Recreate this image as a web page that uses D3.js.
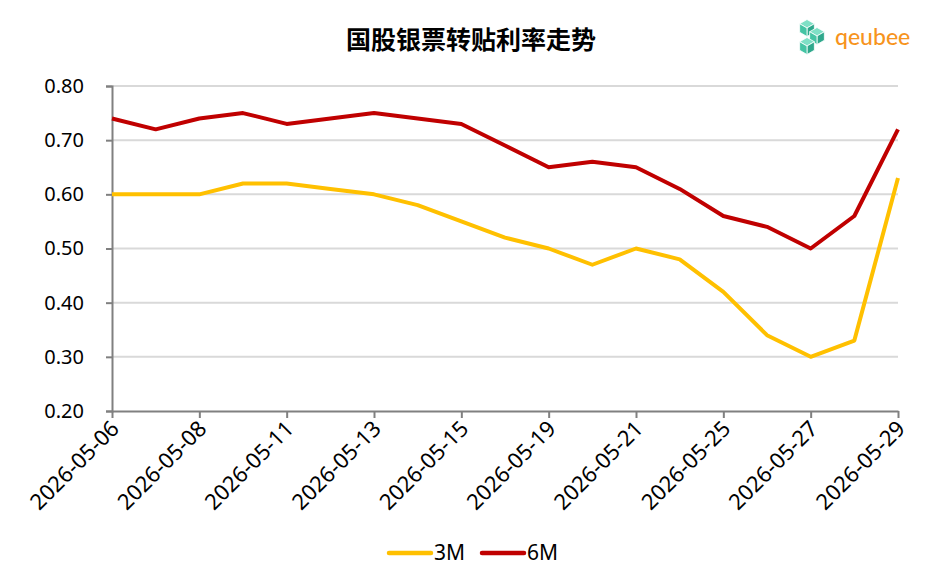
<!DOCTYPE html>
<html lang="zh">
<head>
    <meta charset="UTF-8">
    <title>国股银票转贴利率走势</title>
    <script src="https://d3js.org/d3.v7.min.js"></script>
    <style>
        body {
            margin: 0;
            background: #fff;
        }
        svg text {
            font-family: "Noto Sans", "Noto Sans CJK SC", sans-serif;
        }
        .title {
            font-family: "Noto Sans CJK SC", sans-serif !important;
            font-weight: 700;
            font-size: 25px;
            text-anchor: middle;
        }
        .tick text {
            fill: #000;
        }
        .y-axis .tick text {
            font-size: 20px;
        }
        .x-axis .tick text {
            font-size: 22px;
        }
        .grid line {
            stroke: #d9d9d9;
            stroke-width: 2px;
        }
        .line {
            fill: none;
            stroke-width: 4px;
            stroke-linejoin: round;
        }
        .legend text {
            font-size: 21px;
            dominant-baseline: middle;
        }
    </style>
</head>
<body>
    <div id="chart"></div>
    <script>
        const dates = ['2026-05-06', '2026-05-07', '2026-05-08', '2026-05-09', '2026-05-11', '2026-05-12',
            '2026-05-13', '2026-05-14', '2026-05-15', '2026-05-18', '2026-05-19', '2026-05-20',
            '2026-05-21', '2026-05-22', '2026-05-25', '2026-05-26', '2026-05-27', '2026-05-28', '2026-05-29'];
        const rate3M = [0.60, 0.60, 0.60, 0.62, 0.62, 0.61, 0.60, 0.58, 0.55, 0.52, 0.50, 0.47,
            0.50, 0.48, 0.42, 0.34, 0.30, 0.33, 0.63];
        const rate6M = [0.74, 0.72, 0.74, 0.75, 0.73, 0.74, 0.75, 0.74, 0.73, 0.69, 0.65, 0.66,
            0.65, 0.61, 0.56, 0.54, 0.50, 0.56, 0.72];
        const yTicks = [0.20, 0.30, 0.40, 0.50, 0.60, 0.70, 0.80];
        const seriesNames = ['3M', '6M'];
        const seriesColors = ['#FFC000', '#C00000'];

        const width = 942, height = 587;
        const margin = { left: 112, right: 44, top: 86, bottom: 176 };

        const svg = d3.select("#chart").append("svg")
            .attr("width", width)
            .attr("height", height);

        const x = d3.scalePoint()
            .domain(dates)
            .range([margin.left, width - margin.right]);

        const y = d3.scaleLinear()
            .domain([0.20, 0.80])
            .range([height - margin.bottom, margin.top]);

        // gridlines
        svg.append("g")
            .attr("class", "grid")
            .selectAll("line")
            .data(yTicks.slice(1))
            .enter().append("line")
            .attr("x1", margin.left)
            .attr("x2", width - margin.right)
            .attr("y1", d => y(d))
            .attr("y2", d => y(d));

        // y axis
        const yAxis = svg.append("g")
            .attr("class", "y-axis")
            .attr("transform", `translate(${margin.left},0)`)
            .call(d3.axisLeft(y).tickValues(yTicks).tickFormat(d3.format(".2f")).tickSize(6).tickPadding(22));
        yAxis.attr("font-family", null).attr("font-size", null);
        yAxis.select(".domain").attr("stroke", "#808080").attr("stroke-width", 2);
        yAxis.selectAll(".tick line").attr("stroke", "#808080").attr("stroke-width", 2);

        // x axis, labels on every other date
        const labelDates = dates.filter((d, i) => i % 2 === 0);
        const xAxis = svg.append("g")
            .attr("class", "x-axis")
            .attr("transform", `translate(0,${y(0.20)})`)
            .call(d3.axisBottom(x).tickValues(labelDates).tickSize(7).tickSizeOuter(0));
        xAxis.attr("font-family", null).attr("font-size", null);
        xAxis.select(".domain").attr("stroke", "#808080").attr("stroke-width", 2);
        xAxis.selectAll(".tick line").attr("stroke", "#808080").attr("stroke-width", 2);
        xAxis.selectAll(".tick text")
            .attr("text-anchor", "end")
            .attr("dy", null)
            .attr("y", 0)
            .attr("transform", "translate(8,19) rotate(-45)");

        // lines
        const seriesData = [rate3M, rate6M];
        const line = d3.line()
            .x((d, i) => x(dates[i]))
            .y(d => y(d));

        svg.append("g")
            .selectAll("path")
            .data(seriesData)
            .enter().append("path")
            .attr("class", "line")
            .attr("stroke", (d, i) => seriesColors[i])
            .attr("d", line);

        // title
        svg.append("text")
            .attr("class", "title")
            .attr("x", 471)
            .attr("y", 49)
            .text("国股银票转贴利率走势");

        // legend
        const legend = svg.append("g")
            .attr("class", "legend")
            .selectAll("g")
            .data(seriesNames)
            .enter().append("g")
            .attr("transform", (d, i) => `translate(${389 + i * 93},553)`);
        legend.append("line")
            .attr("x1", 0).attr("x2", 42)
            .attr("stroke", (d, i) => seriesColors[i])
            .attr("stroke-width", 4.5)
            .attr("stroke-linecap", "round");
        legend.append("text")
            .attr("x", 45)
            .attr("y", 1)
            .text(d => d);

        // logo
        const logo = svg.append("g").attr("transform", "translate(811,37)");
        const cubes = [[-4, -9], [6, -1], [-4, 9]];
        const r = 8.5;
        cubes.forEach(([cx, cy]) => {
            const hex = d3.range(6).map(k => {
                const a = Math.PI / 3 * k - Math.PI / 2;
                return [cx + r * Math.cos(a), cy + r * Math.sin(a)];
            });
            const faces = [
                [[cx, cy], hex[5], hex[0], hex[1]],
                [[cx, cy], hex[1], hex[2], hex[3]],
                [[cx, cy], hex[3], hex[4], hex[5]]
            ];
            const shades = ['#7fe0c6', '#2fa88c', '#45c4a4'];
            faces.forEach((f, k) => {
                logo.append("polygon")
                    .attr("points", f.map(p => p.join(",")).join(" "))
                    .attr("fill", shades[k])
                    .attr("stroke", "#fff")
                    .attr("stroke-width", 0.8);
            });
        });
        svg.append("text")
            .attr("x", 835)
            .attr("y", 45)
            .attr("font-size", 23)
            .attr("font-weight", 500)
            .attr("fill", "#F7941D")
            .style("font-family", "Lato, sans-serif")
            .text("qeubee");
    </script>
</body>
</html>
